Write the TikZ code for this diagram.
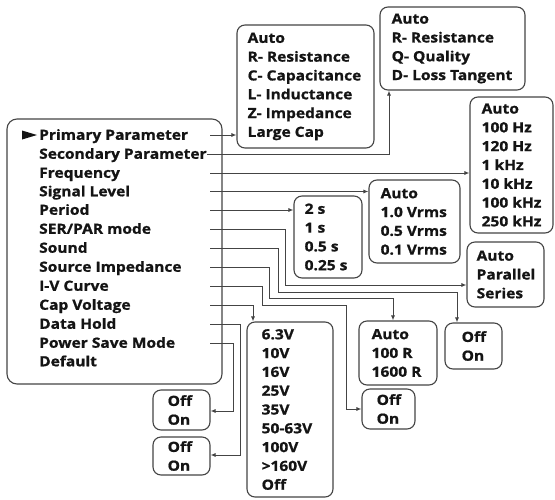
\documentclass[tikz,border=0pt]{standalone}
\usepackage{fontspec}
\setmainfont{Open Sans}[BoldFeatures={FakeBold=1.0,FakeStretch=1.11}]
\usetikzlibrary{arrows.meta}
\definecolor{linec}{HTML}{444444}
\definecolor{txtc}{HTML}{141414}
\tikzset{
  optbox/.style={draw=linec, line width=1.1pt, rounded corners=8pt, inner sep=0pt},
  opttext/.style={anchor=west, align=left, inner sep=0pt, text=txtc, font=\fontsize{14}{18.8}\selectfont\bfseries},
  entry/.style={anchor=west, inner sep=0pt, text height=10pt, text depth=0.5pt, text=txtc, font=\fontsize{14}{18.8}\selectfont\bfseries},
  conn/.style={draw=linec, line width=0.9pt, -{Latex[length=5pt,width=4pt]}},
}
\begin{document}
\begin{tikzpicture}[x=1pt,y=-1pt]
\useasboundingbox (0,0) rectangle (555,499);
% main box
\node[optbox, rounded corners=10pt, minimum width=215pt, minimum height=265pt] (main) at (114.5,251.5) {};
\fill[txtc] (22,130.5) -- (37,135) -- (22,139.5) -- cycle;
\node[entry] (e1) at (39,135) {Primary Parameter};
\node[entry] (e2) at (39,154) {Secondary Parameter};
\node[entry] (e3) at (39,173) {Frequency};
\node[entry] (e4) at (39,191.5) {Signal Level};
\node[entry] (e5) at (39,210) {Period};
\node[entry] (e6) at (39,229) {SER/PAR mode};
\node[entry] (e7) at (39,248) {Sound};
\node[entry] (e8) at (39,267) {Source Impedance};
\node[entry] (e9) at (39,286) {I-V Curve};
\node[entry] (e10) at (39,305) {Cap Voltage};
\node[entry] (e11) at (39,324) {Data Hold};
\node[entry] (e12) at (39,343) {Power Save Mode};
\node[entry] (e13) at (39,361.5) {Default};
\coordinate (sx) at (210,0);
\coordinate (sx2) at (207,0);
% option boxes
\node[optbox, minimum width=137pt, minimum height=123pt] (b1) at (305.5,86.5) {};
\node[opttext, xshift=11pt] (t1) at (b1.west) {Auto\\R- Resistance\\C- Capacitance\\L- Inductance\\Z- Impedance\\Large Cap};
\node[optbox, minimum width=145pt, minimum height=83pt] (b2) at (452.5,48.5) {};
\node[opttext, xshift=12pt] (t2) at (b2.west) {Auto\\R- Resistance\\Q- Quality\\D- Loss Tangent};
\node[optbox, minimum width=83pt, minimum height=136pt] (b3) at (511.5,165) {};
\node[opttext, xshift=12pt] (t3) at (b3.west) {Auto\\100 Hz\\120 Hz\\1 kHz\\10 kHz\\100 kHz\\250 kHz};
\node[optbox, minimum width=91pt, minimum height=83pt] (b4) at (414.5,221.5) {};
\node[opttext, xshift=12pt] (t4) at (b4.west) {Auto\\1.0 Vrms\\0.5 Vrms\\0.1 Vrms};
\node[optbox, minimum width=68pt, minimum height=82pt] (b5) at (328,237) {};
\node[opttext, xshift=11pt] (t5) at (b5.west) {2 s\\1 s\\0.5 s\\0.25 s};
\node[optbox, minimum width=77pt, minimum height=65pt] (b6) at (505.5,274.5) {};
\node[opttext, xshift=10pt] (t6) at (b6.west) {Auto\\Parallel\\Series};
\node[optbox, minimum width=57pt, minimum height=46pt] (b7) at (473.5,346) {};
\node[opttext, xshift=17pt] (t7) at (b7.west) {Off\\On};
\node[optbox, minimum width=78pt, minimum height=64pt] (b8) at (398,353) {};
\node[opttext, xshift=13pt] (t8) at (b8.west) {Auto\\100 R\\1600 R};
\node[optbox, minimum width=53pt, minimum height=40pt] (b9) at (388.5,409) {};
\node[opttext, xshift=15pt] (t9) at (b9.west) {Off\\On};
\node[optbox, minimum width=86pt, minimum height=175pt] (b10) at (290,409.5) {};
\node[opttext, xshift=15pt] (t10) at (b10.west) {6.3V\\10V\\16V\\25V\\35V\\50-63V\\100V\\>160V\\Off};
\node[optbox, minimum width=57pt, minimum height=40pt] (b11) at (181.5,410) {};
\node[opttext, xshift=15pt] (t11) at (b11.west) {Off\\On};
\node[optbox, minimum width=57pt, minimum height=38pt] (b12) at (181.5,456) {};
\node[opttext, xshift=15pt] (t12) at (b12.west) {Off\\On};
% connectors
\draw[conn] (e1 -| sx) -- (e1 -| b1.west);
\draw[conn] (e2 -| sx2) -- (389,154) -- (389,0 |- b2.south);
\draw[conn] (e3 -| sx) -- (e3 -| b3.west);
\draw[conn] (e4 -| sx) -- (e4 -| b4.west);
\draw[conn] (e5 -| sx) -- (e5 -| b5.west);
\draw[conn] (e6 -| sx) -- (285,229) -- (285,285) -- (285,285 -| b6.west);
\draw[conn] (e7 -| sx) -- (278,248) -- (278,292) -- (457,292) -- (457,0 |- b7.north);
\draw[conn] (e8 -| sx) -- (269,267) -- (269,298) -- (393,298) -- (393,0 |- b8.north);
\draw[conn] (e9 -| sx) -- (262,286) -- (262,305) -- (346,305) -- (346,409) -- (346,409 -| b9.west);
\draw[conn] (e10 -| sx) -- (253,305) -- (253,0 |- b10.north);
\draw[conn] (e11 -| sx) -- (240,324) -- (240,455) -- (240,455 -| b12.east);
\draw[conn] (e12 -| sx) -- (233,343) -- (233,411) -- (233,411 -| b11.east);
\end{tikzpicture}
\end{document}
